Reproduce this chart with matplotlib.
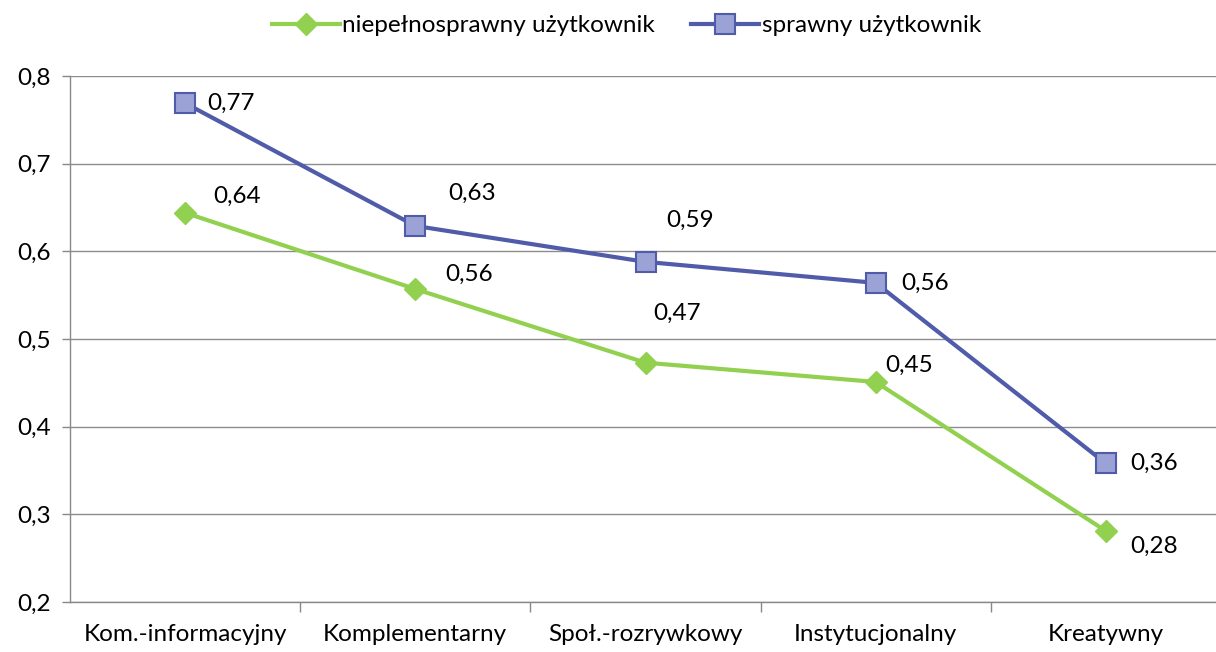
import numpy as np
import matplotlib.pyplot as plt

categories = ['Kom.-informacyjny', 'Komplementarny', 'Społ.-rozrywkowy', 'Instytucjonalny', 'Kreatywny']
niepelnosprawny = [0.644, 0.557, 0.473, 0.451, 0.281]
sprawny = [0.769, 0.629, 0.588, 0.564, 0.358]
yticks = [0.2, 0.3, 0.4, 0.5, 0.6, 0.7, 0.8]

# label offsets in pixels (dx, dy)
off_green = [(28, 16), (30, 15), (8, 49), (10, 17), (24, -15)]
off_blue = [(22, 0), (33, 33), (21, 42), (26, 0), (24, 0)]

plt.rcParams['font.family'] = ['Lato', 'DejaVu Sans']
fs = 17.5

fig = plt.figure(figsize=(12.16, 6.52), dpi=100)
ax = fig.add_axes([70 / 1216, 1 - 602 / 652, 1151 / 1216, (602 - 76) / 652])

x = np.arange(len(categories))
green = '#92D050'
blue_line = '#505CAA'
blue_face = '#9BA2D6'

ax.plot(x, niepelnosprawny, color=green, lw=3, marker='D', ms=11,
        mfc=green, mec=green, label='niepełnosprawny użytkownik', zorder=3)
ax.plot(x, sprawny, color=blue_line, lw=3, marker='s', ms=14,
        mfc=blue_face, mec=blue_line, mew=1.5, label='sprawny użytkownik', zorder=3)

for xi, v, (dx, dy) in zip(x, niepelnosprawny, off_green):
    ax.annotate(f'{v:.2f}'.replace('.', ','), (xi, v), xytext=(dx, dy),
                textcoords='offset pixels', ha='left', va='center', fontsize=fs)
for xi, v, (dx, dy) in zip(x, sprawny, off_blue):
    ax.annotate(f'{v:.2f}'.replace('.', ','), (xi, v), xytext=(dx, dy),
                textcoords='offset pixels', ha='left', va='center', fontsize=fs)

ax.set_xlim(-0.5, 4.5)
ax.set_ylim(0.2, 0.8)
ax.set_yticks(yticks)
ax.set_yticklabels([f'{t:.1f}'.replace('.', ',') for t in yticks], fontsize=fs)
ax.set_xticks(x)
ax.set_xticklabels(categories, fontsize=fs)
ax.set_xticks(np.arange(0.5, 4.5, 1), minor=True)
ax.tick_params(axis='x', which='major', length=0, pad=16)
ax.tick_params(axis='x', which='minor', length=7, color='#888888', width=1)
ax.tick_params(axis='y', length=6, color='#888888', width=1, pad=8)
ax.grid(axis='y', color='#8C8C8C', lw=1)
ax.set_axisbelow(True)
for s in ['top', 'right']:
    ax.spines[s].set_visible(False)
for s in ['left', 'bottom']:
    ax.spines[s].set_color('#888888')
    ax.spines[s].set_linewidth(1)

fig.legend(loc='upper center', bbox_to_anchor=(0.515, 1.01), ncol=2, frameon=False,
           fontsize=fs, handlelength=2.8, handletextpad=0.1, columnspacing=1.5)

fig.savefig('out.png', dpi=100)
